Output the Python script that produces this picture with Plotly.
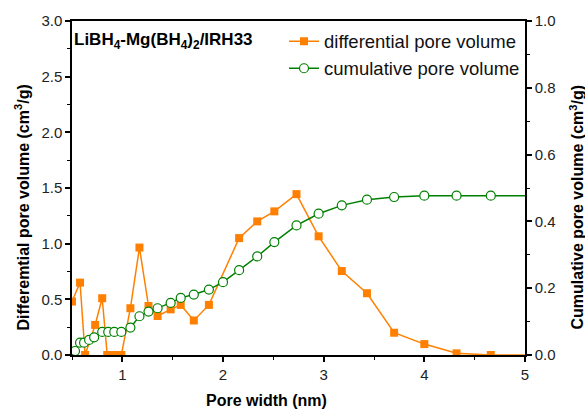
import plotly.graph_objects as go

diff_x = [0.50, 0.58, 0.63, 0.73, 0.80, 0.85, 0.92, 0.99, 1.08, 1.17, 1.26, 1.35, 1.48, 1.58, 1.71,
          1.86, 2.16, 2.34, 2.51, 2.73, 2.95, 3.18, 3.43, 3.70, 4.00, 4.32, 4.66, 5.10]
diff_y = [0.48, 0.65, 0.00, 0.27, 0.51, 0.00, 0.00, 0.00, 0.42, 0.965, 0.44, 0.35, 0.41, 0.45, 0.31,
          0.45, 1.05, 1.20, 1.29, 1.445, 1.066, 0.754, 0.555, 0.20, 0.098, 0.015, 0.0, 0.0]

cum_x = [0.53, 0.58, 0.62, 0.67, 0.72, 0.80, 0.86, 0.92, 0.99, 1.08, 1.17, 1.26, 1.35, 1.48, 1.58, 1.71,
         1.86, 2.00, 2.16, 2.34, 2.51, 2.73, 2.95, 3.18, 3.43, 3.70, 4.00, 4.32, 4.66, 5.10]
cum_y = [0.012, 0.037, 0.037, 0.045, 0.053, 0.069, 0.069, 0.069, 0.069, 0.082, 0.116, 0.13, 0.14, 0.156,
         0.171, 0.181, 0.196, 0.218, 0.254, 0.295, 0.338, 0.388, 0.423, 0.448, 0.465, 0.473, 0.477,
         0.477, 0.477, 0.477]

ORANGE = "#FF8000"
GREEN = "#008000"
FONT = "Liberation Sans, Arial, sans-serif"

fig = go.Figure()
fig.add_trace(go.Scatter(x=diff_x, y=diff_y, mode="lines+markers", name="differential pore volume",
                         line=dict(color=ORANGE, width=1.5),
                         marker=dict(symbol="square", size=8, color=ORANGE, line=dict(width=0))))
fig.add_trace(go.Scatter(x=cum_x, y=cum_y, mode="lines+markers", name="cumulative pore volume",
                         yaxis="y2",
                         line=dict(color=GREEN, width=1.5),
                         marker=dict(symbol="circle", size=9, color="white", line=dict(color=GREEN, width=1.2))))

axis_common = dict(showline=True, linecolor="black", linewidth=1.5, showgrid=False, zeroline=False,
                   ticks="outside", ticklen=5, tickwidth=1.5, tickcolor="black",
                   tickfont=dict(family=FONT, size=15, color="#222"))

fig.update_layout(
    width=585, height=410,
    margin=dict(l=72, r=60, t=18, b=55),
    plot_bgcolor="white", paper_bgcolor="white",
    xaxis=dict(range=[0.5, 5], dtick=1, tick0=0, mirror=True,
               minor=dict(dtick=0.5, ticks="outside", ticklen=3, tickcolor="black", tickwidth=1),
               **axis_common),
    yaxis=dict(range=[0, 3], dtick=0.5, tickformat=".1f",
               minor=dict(dtick=0.25, ticks="outside", ticklen=3, tickcolor="black", tickwidth=1),
               **axis_common),
    yaxis2=dict(range=[0, 1], dtick=0.2, tickformat=".1f", overlaying="y", side="right",
                minor=dict(dtick=0.1, ticks="outside", ticklen=3, tickcolor="black", tickwidth=1),
                **axis_common),
    legend=dict(x=1.0, y=0.995, xanchor="right", yanchor="top", bgcolor="rgba(0,0,0,0)",
                font=dict(family=FONT, size=18.5, color="#111"), tracegroupgap=0, itemwidth=30),
    showlegend=True,
)

title_font = dict(family=FONT, size=16, color="black")
fig.add_annotation(x=0.429, y=-0.1365, xref="paper", yref="paper", xanchor="center", yanchor="middle",
                   showarrow=False, text="<b>Pore width (nm)</b>", font=title_font)
fig.add_annotation(x=-0.110, y=0.442, xref="paper", yref="paper", xanchor="center", yanchor="middle",
                   showarrow=False, textangle=-90,
                   text="<b>Differemtial pore volume (cm<sup>3</sup>/g)</b>", font=title_font)
fig.add_annotation(x=1.115, y=0.442, xref="paper", yref="paper", xanchor="center", yanchor="middle",
                   showarrow=False, textangle=-90,
                   text="<b>Cumulative pore volume (cm<sup>3</sup>/g)</b>", font=title_font)

fig.add_annotation(x=0.0, y=0.98, xref="paper", yref="paper", xanchor="left", yanchor="top",
                   showarrow=False, align="left",
                   text="<b>LiBH<sub>4</sub>-Mg(BH<sub>4</sub>)<sub>2</sub>/IRH33</b>",
                   font=dict(family=FONT, size=17, color="black"))

fig.write_html("out.html")
